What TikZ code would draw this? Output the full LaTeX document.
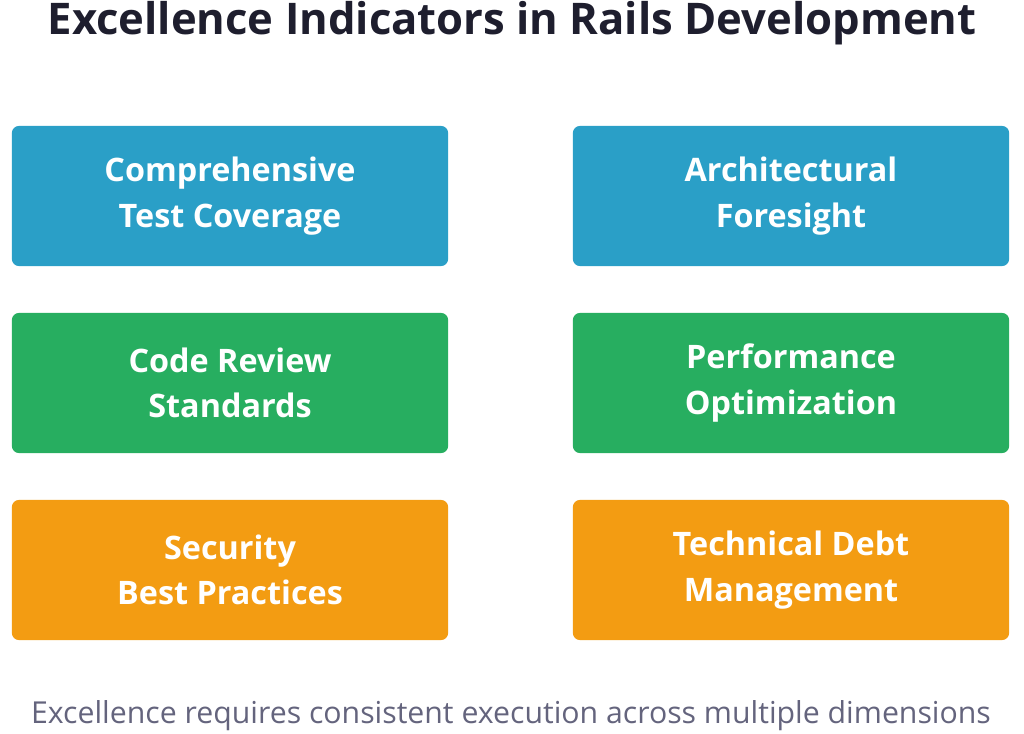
\documentclass[tikz,border=0pt]{standalone}
\usepackage{fontspec}
\setmainfont{Open Sans}
\usetikzlibrary{positioning}
\definecolor{tileblue}{RGB}{42,159,199}
\definecolor{tilegreen}{RGB}{39,174,96}
\definecolor{tileorange}{RGB}{243,156,18}
\definecolor{titleink}{RGB}{30,30,46}
\definecolor{noteink}{RGB}{100,100,125}
\begin{document}
\begin{tikzpicture}[
        x=0.01cm, y=-0.01cm,
        every node/.style={align=center},
        tile/.style={rectangle, rounded corners=0.07cm, minimum width=4.36cm, minimum height=1.4cm,
                     font=\fontsize{9.2}{13}\selectfont\bfseries, text=white, inner sep=0pt},
        blue tile/.style={tile, fill=tileblue},
        green tile/.style={tile, fill=tilegreen},
        orange tile/.style={tile, fill=tileorange}
    ]
        \useasboundingbox (0,0) rectangle (1024,734);
        % Title
        \node [font=\fontsize{12.4}{15}\selectfont\bfseries, text=titleink] (title) at (512,23) {Excellence Indicators in Rails Development};
        % Tiles
        \node [blue tile] (coverage) at (230,196) {Comprehensive\\Test Coverage};
        \node [blue tile] (foresight) at (791,196) {Architectural\\Foresight};
        \node [green tile] (review) at (230,383) {Code Review\\Standards};
        \node [green tile] (perf) at (791,383) {Performance\\Optimization};
        \node [orange tile] (security) at (230,570) {Security\\Best Practices};
        \node [orange tile] (debt) at (791,570) {Technical Debt\\Management};
        % Footer
        \node [font=\fontsize{8.6}{10}\selectfont, text=noteink] (note) at (511,716) {Excellence requires consistent execution across multiple dimensions};
    \end{tikzpicture}
\end{document}
